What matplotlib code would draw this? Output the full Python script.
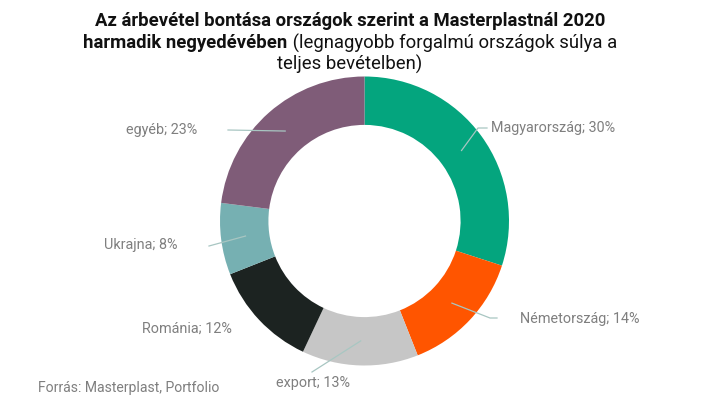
import numpy as np
from matplotlib import pyplot as plt

# Data
labels = ['Magyarország', 'Németország', 'export', 'Románia', 'Ukrajna', 'egyéb']
shares = [30, 14, 13, 12, 8, 23]
colors = ['#04a57e', '#ff5500', '#c6c6c6', '#1c2321', '#76b0b2', '#7f5c78']

# label layout (pixels): text anchor x, y, alignment, elbow point, line end
label_pos = {
    'Magyarország': (491, 128, 'left', (478, 128), (487, 128)),
    'Németország': (520, 319, 'left', (490, 318), (497, 318)),
    'export': (313, 383, 'center', None, (312, 372)),
    'Románia': (232, 329, 'right', None, None),
    'Ukrajna': (178, 245, 'right', None, (209, 246)),
    'egyéb': (197, 130, 'right', None, (228, 130)),
}

W, H = 702, 397
cx, cy, R = 364.5, 221.0, 144.5

plt.rcParams['font.family'] = ['Roboto', 'DejaVu Sans']

fig = plt.figure(figsize=(W / 100, H / 100), dpi=100)
ax = fig.add_axes([(cx - R) / W, (H - cy - R) / H, 2 * R / W, 2 * R / H])

wedges, _ = ax.pie(shares, colors=colors, startangle=90, counterclock=False,
                   radius=1, wedgeprops=dict(width=0.335, linewidth=0))
ax.set_xlim(-1, 1)
ax.set_ylim(-1, 1)
ax.set_aspect('equal')
ax.axis('off')


def px2data(px, py):
    return (px - cx) / R, (cy - py) / R


line_col = '#a8c6c2'
text_col = '#7f7f7f'
for w, lab, val in zip(wedges, labels, shares):
    ang = np.deg2rad((w.theta1 + w.theta2) / 2)
    mx, my = 0.83 * np.cos(ang), 0.83 * np.sin(ang)
    tx, ty, ha, elbow, end = label_pos[lab]
    if end is not None:
        pts = [(mx, my)]
        if elbow is not None:
            pts.append(px2data(*elbow))
        pts.append(px2data(*end))
        xs, ys = zip(*pts)
        ax.plot(xs, ys, color=line_col, lw=0.9, clip_on=False)
    dx, dy = px2data(tx, ty)
    ax.text(dx, dy, f'{lab}; {val}%', ha=ha, va='center', fontsize=10.4,
            color=text_col, clip_on=False)

# Title
tcol = '#111111'
fs = 13.3
fig.text(350 / W, 1 - 21 / H, 'Az árbevétel bontása országok szerint a Masterplastnál 2020',
         ha='center', va='center', fontsize=fs, fontweight='bold', color=tcol)
fig.canvas.draw()
r = fig.canvas.get_renderer()
t1 = fig.text(0, 1 - 43 / H, 'harmadik negyedévében', ha='left', va='center',
              fontsize=fs, fontweight='bold', color=tcol)
t2 = fig.text(0, 1 - 43 / H, ' (legnagyobb forgalmú országok súlya a', ha='left',
              va='center', fontsize=fs, color=tcol)
w1 = t1.get_window_extent(r).width
w2 = t2.get_window_extent(r).width
x0 = 350 - (w1 + w2) / 2
t1.set_x(x0 / W)
t2.set_x((x0 + w1) / W)
fig.text(350 / W, 1 - 64 / H, 'teljes bevételben)', ha='center', va='center',
         fontsize=fs, color=tcol)

# Source
fig.text(38 / W, 1 - 388 / H, 'Forrás: Masterplast, Portfolio', ha='left', va='center',
         fontsize=10.1, color=text_col)

fig.savefig('out.png', dpi=100)
